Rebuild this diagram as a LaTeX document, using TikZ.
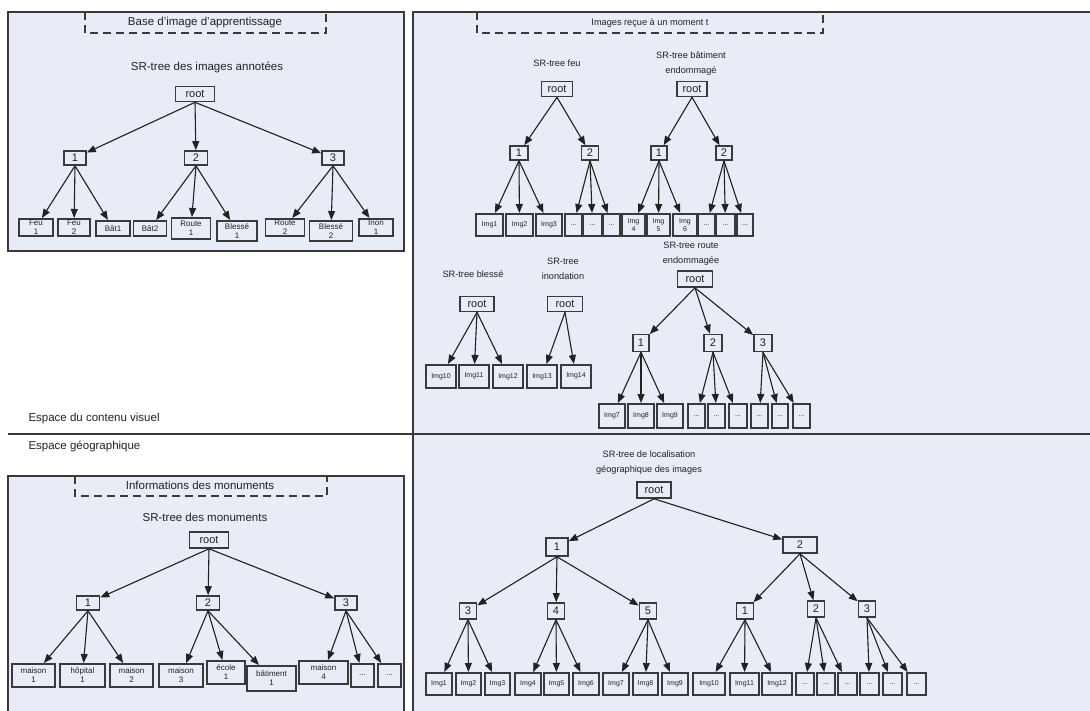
\documentclass[tikz,border=0pt]{standalone}
\usepackage{fontspec}
\setmainfont{Liberation Sans}
\usetikzlibrary{arrows.meta}
\definecolor{ink}{HTML}{222222}
\definecolor{frame}{HTML}{3A3A3A}
\definecolor{panelfill}{HTML}{E7ECF6}
% placeholder for leaves that are not detailed
\newcommand{\elided}{...}

\begin{document}
\begin{tikzpicture}[
  x=1pt,y=-1pt,
  >={Triangle[length=9pt,width=7pt]},
  every node/.style={text=ink,align=center},
  panel/.style={draw=frame,fill=panelfill,line width=1.3pt},
  banner/.style={draw=frame,line width=1.4pt,dash pattern=on 8pt off 5pt},
  title/.style={font=\fontsize{11.5}{14}\selectfont},
  subtitle/.style={font=\fontsize{9.2}{15}\selectfont},
  inner/.style={draw=frame,fill=panelfill,line width=1.6pt,inner sep=0pt,minimum height=15pt,font=\fontsize{11}{11}\selectfont},
  leaf/.style={draw=frame,line width=1.6pt,inner sep=0pt,anchor=north,font=\fontsize{7}{8}\selectfont},
  bigleaf/.style={leaf,font=\fontsize{8}{9}\selectfont},
  link/.style={->,line width=1.1pt,draw=ink,fill=ink}
]
  \useasboundingbox (0,0) rectangle (1090,711);
  \clip (0,0) rectangle (1090,711);

  % Panels: training base, received images, monuments, geographic index.
  \fill[panelfill] (413,12) rectangle (1100,720);
  \draw[frame,line width=1.3pt] (1100,12) -- (413,12) -- (413,720);
  \draw[panel] (8,12) rectangle (404,251);
  \draw[panel] (8,720) |- (404,476) -- (404,720);
  \draw[frame,line width=1.3pt] (8,434) -- (1100,434);
  \node[title,anchor=west] (visual) at (25,419) {Espace du contenu visuel};
  \node[title,anchor=west] (geo) at (25,446) {Espace géographique};

  % Annotated training images.
  \draw[banner] (85,12) rectangle (326,33);
  \node[title] (base) at (205,23) {Base d'image d'apprentissage};
  \node[title] (ta-title) at (207,67) {SR-tree des images annotées};
  \node[inner,minimum width=39pt] (ta-root) at (195,94) {root};
  \node[inner,minimum width=22pt,minimum height=14pt] (ta-1) at (75,158) {1};
  \node[inner,minimum width=23pt,minimum height=14pt] (ta-2) at (196,158) {2};
  \node[inner,minimum width=22pt,minimum height=14pt] (ta-3) at (333,158) {3};
  \foreach \n/\x/\y/\w/\h/\lbl in {fa/36/218/34/17/{Feu\\1},fb/74/218/32/17/{Feu\\2},
      ba/113/220/34/15/{Bât1},bb/150/220/33/15/{Bât2},ra/191/217/39/21/{Route\\1},
      la/237/220/40/20/{Blessé\\1},rb/285/218/39/17/{Route\\2},lb/331/220/43/20/{Blessé\\2},
      ia/376/218/34/17/{Inon\\1}}
    \node[bigleaf,minimum width=\w,minimum height=\h] (ta-\n) at (\x,\y) {\lbl};
  \foreach \c in {1,2,3} \draw[link] (ta-root.south) -- (ta-\c);
  \foreach \p/\c in {1/fa,1/fb,1/ba,2/bb,2/ra,2/la,3/rb,3/lb,3/ia}
    \draw[link] (ta-\p.south) -- (ta-\c);

  % Images received at time t.
  \draw[banner] (477,12) rectangle (823,33);
  \node[subtitle] (recv) at (650,23) {Images reçue à un moment t};

  \node[subtitle] (fe-title) at (557,63) {SR-tree feu};
  \node[inner,minimum width=31pt] (fe-root) at (557,89) {root};
  \node[inner,minimum width=18pt,minimum height=14pt] (fe-1) at (519,153) {1};
  \node[inner,minimum width=17pt,minimum height=14pt] (fe-2) at (590,153) {2};
  \foreach \n/\x/\w/\lbl in {a/489.5/27/Img1,b/519.5/27/Img2,c/549/26/Img3,
      d/573.5/17/\elided,e/592.5/19/\elided,f/611.5/17/\elided}
    \node[leaf,minimum width=\w,minimum height=22] (fe-\n) at (\x,213) {\lbl};
  \foreach \c in {1,2} \draw[link] (fe-root.south) -- (fe-\c);
  \foreach \p/\c in {1/a,1/b,1/c,2/d,2/e,2/f} \draw[link] (fe-\p.south) -- (fe-\c);

  \node[subtitle] (bt-title) at (691,63.5) {SR-tree bâtiment\\endommagé};
  \node[inner,minimum width=30pt] (bt-root) at (692,89) {root};
  \node[inner,minimum width=16pt,minimum height=14pt] (bt-1) at (659,153) {1};
  \node[inner,minimum width=16pt,minimum height=14pt] (bt-2) at (724,153) {2};
  \foreach \n/\x/\w/\lbl in {a/633.5/23/{Img\\4},b/658.5/23/{Img\\5},c/685/24/{Img\\6},
      d/706.5/17/\elided,e/725.5/19/\elided,f/745/16/\elided}
    \node[leaf,minimum width=\w,minimum height=22] (bt-\n) at (\x,213) {\lbl};
  \foreach \c in {1,2} \draw[link] (bt-root.south) -- (bt-\c);
  \foreach \p/\c in {1/a,1/b,1/c,2/d,2/e,2/f} \draw[link] (bt-\p.south) -- (bt-\c);

  \node[subtitle] (bl-title) at (473,274) {SR-tree blessé};
  \node[inner,minimum width=34pt] (bl-root) at (477,304) {root};
  \foreach \n/\x/\lbl in {a/441/Img10,b/474/Img11,c/508/Img12}
    \node[leaf,minimum width=30,minimum height=23] (bl-\n) at (\x,364) {\lbl};
  \foreach \c in {a,b,c} \draw[link] (bl-root.south) -- (bl-\c);

  \node[subtitle] (in-title) at (563,268.5) {SR-tree\\inondation};
  \node[inner,minimum width=35pt] (in-root) at (565,304) {root};
  \foreach \n/\x/\lbl in {a/542/Img13,b/576/Img14}
    \node[leaf,minimum width=30,minimum height=23] (in-\n) at (\x,364) {\lbl};
  \foreach \c in {a,b} \draw[link] (in-root.south) -- (in-\c);

  \node[subtitle] (rt-title) at (691,254) {SR-tree route\\endommagée};
  \node[inner,minimum width=35pt,minimum height=16pt] (rt-root) at (695,279) {root};
  \node[inner,minimum width=16pt,minimum height=17pt] (rt-1) at (641,343) {1};
  \node[inner,minimum width=18pt,minimum height=17pt] (rt-2) at (713,343) {2};
  \node[inner,minimum width=18pt,minimum height=17pt] (rt-3) at (763,343) {3};
  \foreach \n/\x/\w/\lbl in {a/612/26/Img7,b/641/26/Img8,c/670/26/Img9,
      d/696.5/17/\elided,e/716.5/17/\elided,f/738/18/\elided,g/759.5/17/\elided,h/780/16/\elided,i/801.5/17/\elided}
    \node[leaf,minimum width=\w,minimum height=24] (rt-\n) at (\x,403) {\lbl};
  \foreach \c in {1,2,3} \draw[link] (rt-root.south) -- (rt-\c);
  \foreach \p/\c in {1/a,1/b,1/c,2/d,2/e,2/f,3/g,3/h,3/i}
    \draw[link] (rt-\p.south) -- (rt-\c);

  % Monuments.
  \draw[banner] (75,476) rectangle (327,496);
  \node[title] (monu) at (200,485) {Informations des monuments};
  \node[title] (mo-title) at (205,517) {SR-tree des monuments};
  \node[inner,minimum width=39pt,minimum height=16pt] (mo-root) at (209,540) {root};
  \node[inner,minimum width=23pt,minimum height=14pt] (mo-1) at (88,603) {1};
  \node[inner,minimum width=23pt,minimum height=14pt] (mo-2) at (208,603) {2};
  \node[inner,minimum width=22pt,minimum height=14pt] (mo-3) at (346,603) {3};
  \foreach \n/\x/\y/\w/\h/\lbl in {ma/33.5/663/43/23/{maison\\1},ho/82.5/663/45/23/{hôpital\\1},
      mb/131.5/663/43/23/{maison\\2},mc/181/663/44/23/{maison\\3},ec/226/660/38/23/{école\\1},
      bt/271.5/665/49/25/{bâtiment\\1},md/323.5/660/49/23/{maison\\4},
      da/362.5/663/23/23/\elided,db/389.5/663/23/23/\elided}
    \node[bigleaf,minimum width=\w,minimum height=\h] (mo-\n) at (\x,\y) {\lbl};
  \foreach \c in {1,2,3} \draw[link] (mo-root.south) -- (mo-\c);
  \foreach \p/\c in {1/ma,1/ho,1/mb,2/mc,2/ec,2/bt,3/md,3/da,3/db}
    \draw[link] (mo-\p.south) -- (mo-\c);

  % Geographic location of the images.
  \node[subtitle] (ge-title) at (649,462.5) {SR-tree de localisation\\géographique des images};
  \node[inner,minimum width=34pt,minimum height=16pt] (ge-root) at (654,490) {root};
  \node[inner,minimum width=22pt,minimum height=18pt] (ge-1) at (557,547) {1};
  \node[inner,minimum width=34pt,minimum height=16pt] (ge-2) at (800,545) {2};
  \foreach \n/\x/\y/\lbl in {a3/468/611/3,a4/556/611/4,a5/648/611/5,
      b1/745/611/1,b2/816/609/2,b3/867/609/3}
    \node[inner,minimum width=17pt,minimum height=16pt] (ge-\n) at (\x,\y) {\lbl};
  \foreach \n/\x/\w/\lbl in {i1/439/26/Img1,i2/468.5/25/Img2,i3/497.5/25/Img3,
      i4/528/26/Img4,i5/556.5/25/Img5,i6/586/26/Img6,i7/616/26/Img7,i8/645.5/25/Img8,
      i9/675/26/Img9,i10/709/32/Img10,i11/744.5/29/Img11,i12/777/30/Img12,
      d1/805/18/\elided,d2/826/18/\elided,d3/847.5/19/\elided,d4/869.5/19/\elided,d5/892.5/19/\elided,d6/916.5/19/\elided}
    \node[leaf,minimum width=\w,minimum height=22] (ge-\n) at (\x,672) {\lbl};
  \foreach \c in {1,2} \draw[link] (ge-root.south) -- (ge-\c);
  \foreach \c in {a3,a4,a5} \draw[link] (ge-1.south) -- (ge-\c);
  \foreach \c in {b1,b2,b3} \draw[link] (ge-2.south) -- (ge-\c);
  \foreach \p/\c in {a3/i1,a3/i2,a3/i3,a4/i4,a4/i5,a4/i6,a5/i7,a5/i8,a5/i9,
      b1/i10,b1/i11,b1/i12,b2/d1,b2/d2,b2/d3,b3/d4,b3/d5,b3/d6}
    \draw[link] (ge-\p.south) -- (ge-\c);
\end{tikzpicture}
\end{document}
